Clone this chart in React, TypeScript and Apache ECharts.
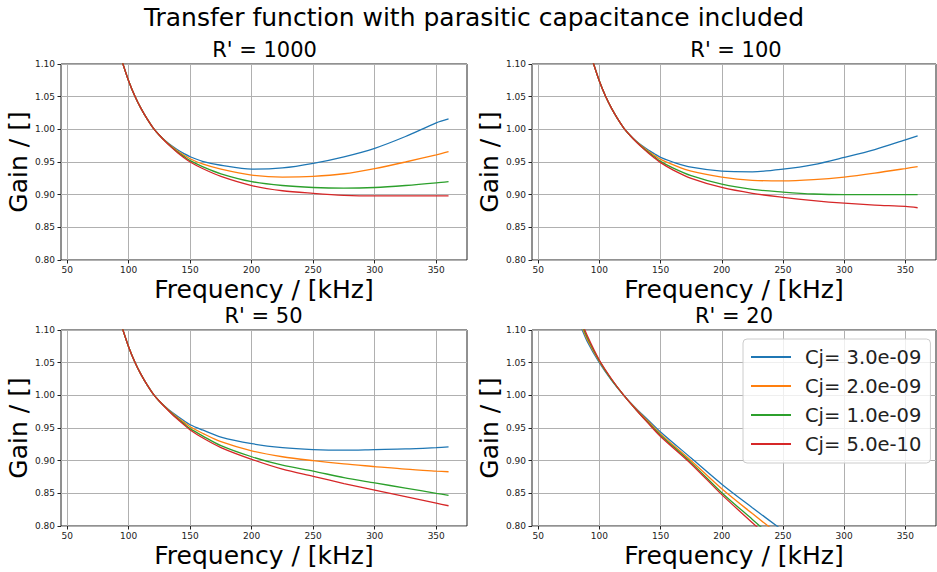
import React, { useEffect, useRef } from "react";
import * as echarts from "echarts";

const mainTitle = "Transfer function with parasitic capacitance included";
const panelTitles = ["R' = 1000", "R' = 100", "R' = 50", "R' = 20"];
const seriesNames = ["Cj= 3.0e-09", "Cj= 2.0e-09", "Cj= 1.0e-09", "Cj= 5.0e-10"];
const colors = ["#1f77b4", "#ff7f0e", "#2ca02c", "#d62728"];
const xTicks = [50, 100, 150, 200, 250, 300, 350];

// frequency samples (kHz) for panels R'=1000, 100, 50
const freqA = [95, 100, 105, 110, 115, 120, 125, 130, 135, 140, 145, 150, 160, 175, 200, 225, 250, 275, 300, 325, 350, 360];
// frequency samples (kHz) for panel R'=20
const freqB = [85, 90, 100, 110, 120, 130, 140, 150, 175, 200, 225, 250];

// R' = 1000
const r1000_c30 = [1.102, 1.074, 1.051, 1.032, 1.016, 1.002, 0.991, 0.9822, 0.9748, 0.9683, 0.9629, 0.958, 0.951, 0.945, 0.939, 0.941, 0.948, 0.958, 0.971, 0.989, 1.01, 1.016];
const r1000_c20 = [1.102, 1.074, 1.051, 1.032, 1.016, 1.002, 0.991, 0.9817, 0.9737, 0.9665, 0.9604, 0.955, 0.947, 0.939, 0.93, 0.927, 0.928, 0.932, 0.94, 0.95, 0.961, 0.966];
const r1000_c10 = [1.102, 1.074, 1.051, 1.032, 1.016, 1.002, 0.991, 0.9813, 0.9727, 0.9649, 0.9582, 0.952, 0.943, 0.932, 0.92, 0.914, 0.911, 0.91, 0.911, 0.914, 0.918, 0.92];
const r1000_c05 = [1.102, 1.074, 1.051, 1.032, 1.016, 1.002, 0.991, 0.981, 0.972, 0.9638, 0.9566, 0.95, 0.94, 0.928, 0.914, 0.906, 0.902, 0.899, 0.898, 0.898, 0.898, 0.898];

// R' = 100
const r100_c30 = [1.102, 1.074, 1.051, 1.032, 1.016, 1.002, 0.991, 0.9822, 0.9748, 0.9683, 0.9626, 0.957, 0.95, 0.942, 0.936, 0.935, 0.939, 0.946, 0.957, 0.969, 0.984, 0.99];
const r100_c20 = [1.102, 1.074, 1.051, 1.032, 1.016, 1.002, 0.991, 0.9817, 0.9737, 0.9665, 0.9601, 0.954, 0.946, 0.936, 0.927, 0.922, 0.921, 0.923, 0.927, 0.933, 0.94, 0.943];
const r100_c10 = [1.102, 1.074, 1.051, 1.032, 1.016, 1.002, 0.991, 0.9813, 0.9727, 0.9649, 0.9579, 0.951, 0.941, 0.929, 0.916, 0.908, 0.904, 0.901, 0.9, 0.9, 0.9, 0.9];
const r100_c05 = [1.102, 1.074, 1.051, 1.032, 1.016, 1.002, 0.991, 0.981, 0.972, 0.9638, 0.9563, 0.949, 0.938, 0.925, 0.911, 0.902, 0.896, 0.891, 0.887, 0.884, 0.882, 0.88];

// R' = 50
const r50_c30 = [1.102, 1.074, 1.051, 1.032, 1.016, 1.002, 0.991, 0.9822, 0.9743, 0.9675, 0.961, 0.955, 0.947, 0.936, 0.926, 0.92, 0.917, 0.916, 0.917, 0.918, 0.92, 0.921];
const r50_c20 = [1.102, 1.074, 1.051, 1.032, 1.016, 1.002, 0.991, 0.9817, 0.9732, 0.9657, 0.9586, 0.952, 0.942, 0.929, 0.915, 0.906, 0.9, 0.895, 0.891, 0.887, 0.884, 0.883];
const r50_c10 = [1.102, 1.074, 1.051, 1.032, 1.016, 1.002, 0.991, 0.9813, 0.9722, 0.9641, 0.9564, 0.949, 0.938, 0.923, 0.906, 0.893, 0.884, 0.874, 0.866, 0.858, 0.85, 0.847];
const r50_c05 = [1.102, 1.074, 1.051, 1.032, 1.016, 1.002, 0.991, 0.981, 0.9715, 0.963, 0.9548, 0.947, 0.935, 0.92, 0.902, 0.887, 0.876, 0.865, 0.855, 0.845, 0.835, 0.831];

// R' = 20
const r20_c30 = [1.105, 1.083, 1.05, 1.023, 1.0, 0.98, 0.962, 0.944, 0.904, 0.864, 0.828, 0.793];
const r20_c20 = [1.109, 1.086, 1.052, 1.024, 1.0, 0.979, 0.96, 0.941, 0.9, 0.857, 0.819, 0.782];
const r20_c10 = [1.112, 1.089, 1.053, 1.024, 1.0, 0.978, 0.958, 0.939, 0.897, 0.851, 0.81, 0.769];
const r20_c05 = [1.115, 1.092, 1.054, 1.025, 1.0, 0.978, 0.957, 0.937, 0.895, 0.848, 0.805, 0.762];

const panels = [
  { freq: freqA, values: [r1000_c30, r1000_c20, r1000_c10, r1000_c05] },
  { freq: freqA, values: [r100_c30, r100_c20, r100_c10, r100_c05] },
  { freq: freqA, values: [r50_c30, r50_c20, r50_c10, r50_c05] },
  { freq: freqB, values: [r20_c30, r20_c20, r20_c10, r20_c05] },
];

const FONT = "DejaVu Sans";
const gridRects = [
  { left: 61, top: 64, width: 406, height: 196 },
  { left: 532, top: 64, width: 404, height: 196 },
  { left: 61, top: 330, width: 406, height: 196 },
  { left: 532, top: 330, width: 404, height: 196 },
];

export default function App() {
  const ref = useRef<HTMLDivElement>(null);
  useEffect(() => {
    if (!ref.current) return;
    const chart = echarts.init(ref.current, null, { renderer: "svg" });
    const grid = gridRects.map((g) => ({
      ...g,
      show: true,
      borderColor: "#222",
      borderWidth: 1,
      backgroundColor: "#fff",
      containLabel: false,
    }));
    const xAxis = gridRects.map((_, i) => ({
      type: "value",
      gridIndex: i,
      min: 45,
      max: 375,
      name: "Frequency / [kHz]",
      nameLocation: "middle",
      nameGap: 17,
      nameTextStyle: { fontFamily: FONT, fontSize: 25, color: "#000" },
      axisLine: { show: false },
      axisTick: { show: true, length: 3.5, inside: false, customValues: xTicks, lineStyle: { color: "#222" } },
      axisLabel: { customValues: xTicks, fontFamily: FONT, fontSize: 9, color: "#222", margin: 5 },
      splitLine: { show: true, lineStyle: { color: "#b0b0b0", width: 1 } },
    }));
    const yAxis = gridRects.map((_, i) => ({
      type: "value",
      gridIndex: i,
      min: 0.8,
      max: 1.1,
      interval: 0.05,
      name: "Gain / []",
      nameLocation: "middle",
      nameGap: 28,
      nameTextStyle: { fontFamily: FONT, fontSize: 25, color: "#000" },
      axisLine: { show: false },
      axisTick: { show: true, length: 3.5, lineStyle: { color: "#222" } },
      axisLabel: {
        fontFamily: FONT,
        fontSize: 9,
        color: "#222",
        margin: 6,
        formatter: (v: number) => v.toFixed(2),
      },
      splitLine: { show: true, lineStyle: { color: "#b0b0b0", width: 1 } },
    }));
    const series: any[] = [];
    panels.forEach((p, pi) => {
      p.values.forEach((vals, si) => {
        series.push({
          type: "line",
          name: seriesNames[si],
          xAxisIndex: pi,
          yAxisIndex: pi,
          data: p.freq.map((x, k) => [x, vals[k]]),
          showSymbol: false,
          symbol: "none",
          smooth: 0.3,
          clip: true,
          color: colors[si],
          lineStyle: { width: 1.3, color: colors[si] },
          z: 2 + si,
        });
      });
    });
    const centers = [264.5, 736, 263.5, 734];
    const titleYs = [50, 50, 316, 316];
    const graphic: any[] = [
      {
        type: "text",
        x: 474,
        y: 17,
        style: {
          text: mainTitle,
          fontFamily: FONT,
          fontSize: 25,
          fill: "#000",
          textAlign: "center",
          textVerticalAlign: "middle",
        },
      },
      ...panelTitles.map((t, i) => ({
        type: "text",
        x: centers[i],
        y: titleYs[i],
        style: {
          text: t,
          fontFamily: FONT,
          fontSize: 21,
          fill: "#000",
          textAlign: "center",
          textVerticalAlign: "middle",
        },
      })),
    ];
    chart.setOption({
      animation: false,
      backgroundColor: "#fff",
      textStyle: { fontFamily: FONT },
      grid,
      xAxis,
      yAxis,
      series,
      graphic,
      legend: {
        data: seriesNames.map((n) => ({ name: n, icon: "rect" })),
        left: 743,
        top: 339,
        orient: "vertical",
        itemWidth: 40,
        itemHeight: 2,
        itemGap: 9,
        padding: [8, 9, 9, 8],
        backgroundColor: "rgba(255,255,255,0.8)",
        borderColor: "#cccccc",
        borderWidth: 1,
        borderRadius: 4,
        selectedMode: false,
        textStyle: {
          fontFamily: FONT,
          fontSize: 19.5,
          lineHeight: 19,
          color: "#222",
          padding: [0, 0, 0, 9],
        },
      },
    });
    return () => chart.dispose();
  }, []);
  return (
    <div
      ref={ref}
      style={{ position: "absolute", left: 0, top: 0, width: 937, height: 572 }}
    />
  );
}
